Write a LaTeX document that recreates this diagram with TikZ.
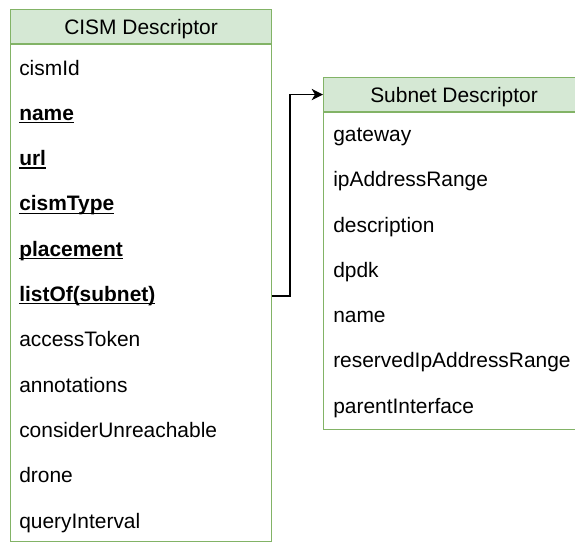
\documentclass[tikz,border=0pt]{standalone}
\usepackage{fontspec}
\setmainfont{Liberation Sans}
\usetikzlibrary{arrows.meta}

\definecolor{cabecera}{HTML}{D5E8D4}
\definecolor{borde}{HTML}{82B366}
\newcommand{\clave}[1]{\setbox0\hbox{\bfseries #1}\rlap{\rule[-2.2pt]{\wd0}{0.9pt}}\box0}

\tikzset{
	cab/.style={draw=borde, fill=cabecera, line width=0.8pt, minimum width=195.75pt, minimum height=25.5pt, inner sep=0pt, anchor=north west, text depth=0pt},
	cuerpo/.style={draw=borde, line width=0.8pt, minimum width=195.75pt, inner sep=0pt, anchor=north west},
	fila/.style={anchor=base west, inner sep=0pt},
	flecha/.style={line width=1pt, -{Stealth[length=8.5pt, width=8.5pt, inset=2.5pt]}}
}

\begin{document}
\begin{tikzpicture}[x=0.75pt, y=-0.75pt, every node/.style={font=\fontsize{15.7}{19}\selectfont}]

\path[use as bounding box, clip] (0,0) rectangle (575,542);

% Tabla CISM
\node[cab] (cism) at (10,9) {CISM Descriptor};
\node[cuerpo, minimum height=372.75pt] (cismbody) at (cism.south west) {};

	\foreach \t [count=\i] in {cismId, \clave{name}, \clave{url}, \clave{cismType}, \clave{placement}, \clave{listOf(subnet)}, accessToken, annotations, considerUnreachable, drone, queryInterval}
		\node[fila] (c\i) at (19,{75+45.3*(\i-1)}) {\t};

% Tabla subred
\node[cab] (subnet) at (323,77) {Subnet Descriptor};
\node[cuerpo, minimum height=237.75pt] (subnetbody) at (subnet.south west) {};

	\foreach \t [count=\i] in {gateway, ipAddressRange, description, dpdk, name, reservedIpAddressRange, parentInterface}
		\node[fila] (s\i) at (333,{141.5+45.25*(\i-1)}) {\t};

% Enlace
\draw[flecha] (cismbody.east |- c6) -- ++(18,0) |- (subnet.west);
\end{tikzpicture}
\end{document}
